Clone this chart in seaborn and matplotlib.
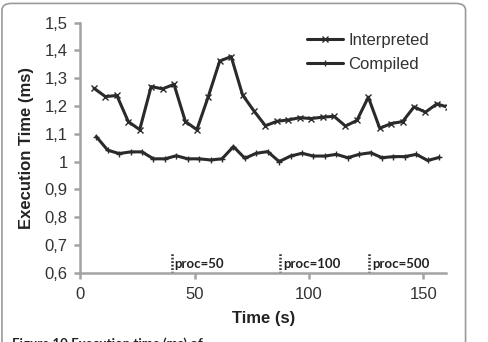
import matplotlib
matplotlib.use('Agg')
import matplotlib.pyplot as plt
from matplotlib.patches import FancyBboxPatch
import seaborn as sns
import pandas as pd

sns.set_style('white')
plt.rcParams['font.family'] = ['Liberation Sans', 'DejaVu Sans']

# values
interp_time = [6, 11, 16, 21, 26, 31, 36, 41, 46, 51, 56, 61, 66, 71, 76, 81,
               86, 91, 96, 101, 106, 111, 116, 121, 126, 131, 136, 141, 146,
               151, 156, 161]
interp_ms = [1.264, 1.234, 1.238, 1.144, 1.115, 1.270, 1.262, 1.278, 1.144,
             1.115, 1.234, 1.362, 1.378, 1.240, 1.182, 1.129, 1.145, 1.150,
             1.158, 1.155, 1.160, 1.163, 1.128, 1.148, 1.232, 1.120, 1.137,
             1.144, 1.197, 1.178, 1.208, 1.195]

comp_time = [7, 12, 17, 22, 27, 32, 37, 42, 47, 52, 57, 62, 67, 72, 77, 82, 87,
             92, 97, 102, 107, 112, 117, 122, 127, 132, 137, 142, 147, 152, 157]
comp_ms = [1.090, 1.041, 1.029, 1.035, 1.035, 1.010, 1.010, 1.021, 1.010,
           1.010, 1.006, 1.010, 1.054, 1.012, 1.030, 1.036, 1.000, 1.020,
           1.030, 1.020, 1.020, 1.026, 1.014, 1.026, 1.032, 1.014, 1.018,
           1.018, 1.026, 1.004, 1.015]

proc_marks = [40, 87.5, 126.5]
proc_labels = ['proc=50', 'proc=100', 'proc=500']

df_i = pd.DataFrame({'time': interp_time, 'ms': interp_ms})
df_c = pd.DataFrame({'time': comp_time, 'ms': comp_ms})

fig = plt.figure(figsize=(4.88, 3.42), dpi=100)
ax = fig.add_axes([0.1645, 0.2026, 0.7495, 0.731])

ink = '#2a2a2a'
sns.lineplot(x='time', y='ms', data=df_i, ax=ax, color=ink, lw=2.2,
             marker='x', markersize=4.5, markeredgewidth=1, markeredgecolor=ink,
             label='Interpreted')
sns.lineplot(x='time', y='ms', data=df_c, ax=ax, color=ink, lw=2.2,
             marker='+', markersize=4, markeredgewidth=1, markeredgecolor=ink,
             label='Compiled')

ax.set_xlim(0, 160)
ax.set_ylim(0.6, 1.5)
ax.set_xticks([0, 50, 100, 150])
yt = [0.6, 0.7, 0.8, 0.9, 1.0, 1.1, 1.2, 1.3, 1.4, 1.5]
ax.set_yticks(yt)
ax.set_yticklabels(['1' if v == 1.0 else f'{v:.1f}'.replace('.', ',') for v in yt])

grey = '#a3a3a3'
for s in ['top', 'right']:
    ax.spines[s].set_visible(False)
for s in ['left', 'bottom']:
    ax.spines[s].set_color(grey)
    ax.spines[s].set_linewidth(1.8)
ax.tick_params(axis='both', direction='out', length=4, width=1.8, color=grey,
               labelsize=12, labelcolor='#333333', pad=6)
ax.tick_params(axis='y', pad=5)
ax.tick_params(axis='both', left=True, bottom=True)

ax.set_xlabel('Time (s)', fontsize=12, fontweight='bold', color='#222222', labelpad=7)
ax.set_ylabel('Execution Time (ms)', fontsize=12, fontweight='bold', color='#222222',
              labelpad=8)

for xm, lab in zip(proc_marks, proc_labels):
    ax.plot([xm, xm], [0.6, 0.672], ls=(0, (0.7, 0.7)), color='#333333', lw=1.8,
            clip_on=False)
    ax.text(xm + 1.2, 0.611, lab, fontsize=9.5, fontweight='bold',
            family=['Lato', 'DejaVu Sans'], color='#222222', va='bottom')

leg = ax.legend(loc='upper left', bbox_to_anchor=(300 / 488, 1 - 26 / 342),
                bbox_transform=fig.transFigure, frameon=False, fontsize=12,
                handlelength=2.2, handletextpad=0.3, labelspacing=0.55,
                borderaxespad=0)
for t in leg.get_texts():
    t.set_color('#333333')

box = FancyBboxPatch((0.004, -0.2), 0.95, 1.19, transform=fig.transFigure,
                     boxstyle='round,pad=0,rounding_size=0.02',
                     fc='none', ec='#9a9a9a', lw=1.2)
fig.patches.append(box)

fig.text(12 / 488, 1 - 337 / 342, 'Figure 10 Execution time (ms) of',
         fontsize=9.5, fontweight='bold', family=['Lato', 'DejaVu Sans'],
         color='#222222', va='top')

fig.savefig('out.png', dpi=100)
